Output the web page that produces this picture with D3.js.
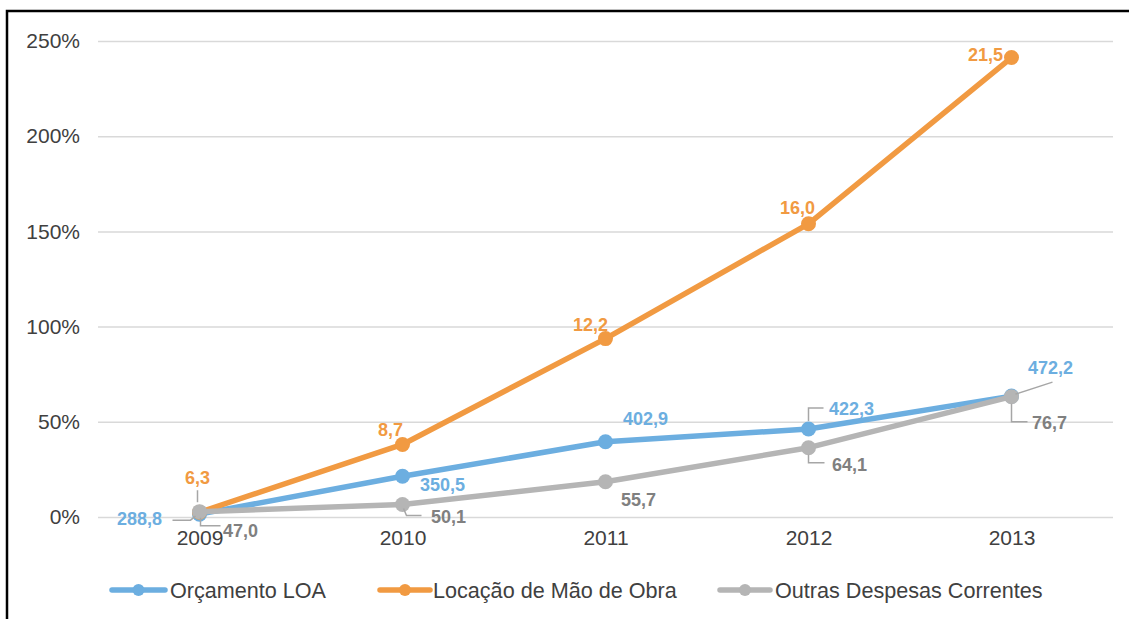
<!DOCTYPE html>
<html>
<head>
<meta charset="utf-8">
<script src="https://cdn.jsdelivr.net/npm/d3@7"></script>
<style>
  html, body { margin: 0; padding: 0; background: #fff; }
  svg { display: block; font-family: "Liberation Sans", Arial, sans-serif; }
</style>
</head>
<body>
<svg id="chart" width="1129" height="619"></svg>
<script>
// ---- data ----
const years = ["2009", "2010", "2011", "2012", "2013"];
const seriesNames = ["Orçamento LOA", "Locação de Mão de Obra", "Outras Despesas Correntes"];
// growth (%) as plotted
const orcamentoPct = [1.5, 21.4, 39.5, 46.2, 63.5];
const locacaoPct = [2.5, 38.1, 93.7, 154.0, 241.3];
const outrasPct = [2.8, 6.6, 18.5, 36.4, 63.2];
// data labels (absolute values)
const orcamentoLabels = ["288,8", "350,5", "402,9", "422,3", "472,2"];
const locacaoLabels = ["6,3", "8,7", "12,2", "16,0", "21,5"];
const outrasLabels = ["47,0", "50,1", "55,7", "64,1", "76,7"];
const yTicks = [0, 50, 100, 150, 200, 250];

// ---- layout / style ----
const colors = ["#6CAEE0", "#F19A42", "#B5B5B5"];
const labelColors = ["#6CAEE0", "#F19A42", "#808080"];
const svg = d3.select("#chart");
const plot = { left: 98, right: 1113, top: 41, bottom: 517 };

const x = d3.scalePoint().domain(years).range([plot.left, plot.right]).padding(0.5);
const y = d3.scaleLinear().domain([0, 250]).range([plot.bottom, plot.top]);

// frame (left and top borders only visible)
svg.append("path")
  .attr("d", "M7,625 L7,11 L1135,11")
  .attr("fill", "none").attr("stroke", "#000").attr("stroke-width", 2.5);

// gridlines
const yAxis = d3.axisLeft(y).tickValues(yTicks).tickSize(-(plot.right - plot.left)).tickFormat(d => d + "%").tickPadding(18);
const gy = svg.append("g").attr("transform", `translate(${plot.left},0)`).call(yAxis);
gy.select(".domain").remove();
gy.selectAll(".tick line").attr("stroke", "#D9D9D9").attr("stroke-width", 1.5);
gy.selectAll(".tick text").attr("fill", "#404040").style("font-size", "21px").attr("font-family", "Liberation Sans, Arial, sans-serif");

const xAxis = d3.axisBottom(x).tickSize(0).tickPadding(13);
const gx = svg.append("g").attr("transform", `translate(0,${plot.bottom})`).call(xAxis);
gx.select(".domain").remove();
gx.selectAll(".tick text").attr("fill", "#404040").style("font-size", "21px").attr("font-family", "Liberation Sans, Arial, sans-serif");

const series = [
  { name: seriesNames[0], vals: orcamentoPct, labels: orcamentoLabels },
  { name: seriesNames[1], vals: locacaoPct, labels: locacaoLabels },
  { name: seriesNames[2], vals: outrasPct, labels: outrasLabels }
];

// label offsets (label centre relative to point) and leader lines
const labelOffsets = [
  [[-60, 5], [40, 9], [40, -23], [43, -20], [39, -28]],
  [[-2, -34], [-12, -14], [-15, -14], [-11, -16], [-26, -3]],
  [[41, 19], [46, 13], [33, 18], [41, 17], [38, 26]]
];
const leaders = [
  [[[-27, 6], [-9, 6], [-4, 2]], null, null, [[0, -8], [0, -21], [15, -21]], [[4, -2], [41, -14]]],
  [[[-2, -22], [-2, -10]], null, null, null, null],
  [[[1, 6], [1, 14], [21, 14]], [[1, 4], [4, 11], [19, 11]], null, [[0, 7], [0, 15], [16, 15]], [[0, 7], [0, 25], [16, 25]]]
];

const line = d3.line().x((d, i) => x(years[i])).y(d => y(d));

series.forEach((s, si) => {
  const g = svg.append("g");
  g.append("path").datum(s.vals)
    .attr("d", line).attr("fill", "none")
    .attr("stroke", colors[si]).attr("stroke-width", 5.5)
    .attr("stroke-linejoin", "round").attr("stroke-linecap", "round");
  g.selectAll("circle").data(s.vals).join("circle")
    .attr("cx", (d, i) => x(years[i])).attr("cy", d => y(d)).attr("r", 7.5)
    .attr("fill", colors[si]);
});

// leaders and labels on top
series.forEach((s, si) => {
  s.vals.forEach((v, i) => {
    const px = x(years[i]), py = y(v);
    const ld = leaders[si][i];
    if (ld) {
      svg.append("polyline")
        .attr("points", ld.map(p => (px + p[0]) + "," + (py + p[1])).join(" "))
        .attr("fill", "none").attr("stroke", "#A6A6A6").attr("stroke-width", 1.5);
    }
    const off = labelOffsets[si][i];
    svg.append("text")
      .attr("x", px + off[0]).attr("y", py + off[1])
      .attr("text-anchor", "middle").attr("dominant-baseline", "central")
      .attr("fill", labelColors[si]).attr("font-weight", "bold")
      .style("font-size", "18px")
      .text(s.labels[i]);
  });
});

// legend
const legendItems = [
  { x0: 112, x1: 165, tx: 170 },
  { x0: 380, x1: 430, tx: 433 },
  { x0: 720, x1: 770, tx: 775 }
];
const ly = 590;
series.forEach((s, si) => {
  const it = legendItems[si];
  svg.append("line").attr("x1", it.x0).attr("x2", it.x1).attr("y1", ly).attr("y2", ly)
    .attr("stroke", colors[si]).attr("stroke-width", 5.5).attr("stroke-linecap", "round");
  svg.append("circle").attr("cx", (it.x0 + it.x1) / 2).attr("cy", ly).attr("r", 6).attr("fill", colors[si]);
  svg.append("text").attr("x", it.tx).attr("y", ly).attr("dominant-baseline", "central")
    .attr("fill", "#404040").style("font-size", "21.6px").text(s.name);
});
</script>
</body>
</html>
